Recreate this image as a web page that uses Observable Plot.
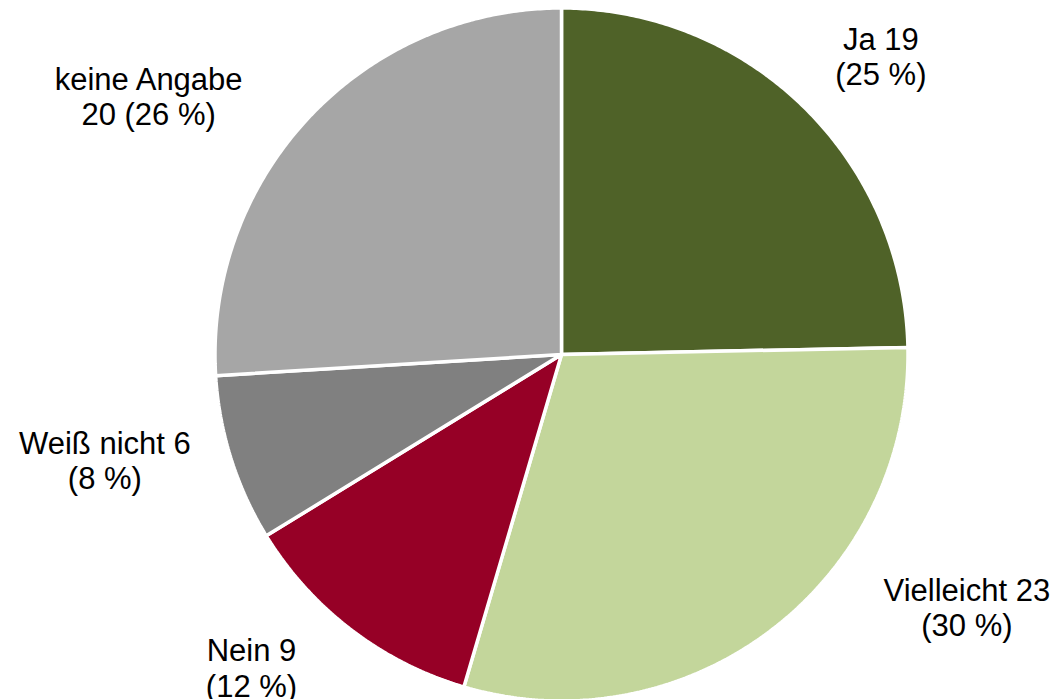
<!DOCTYPE html>
<html>
<head>
<meta charset="utf-8">
<script src="https://cdn.jsdelivr.net/npm/d3@7"></script>
<script src="https://cdn.jsdelivr.net/npm/@observablehq/plot@0.6"></script>
<style>
  html, body { margin: 0; padding: 0; background: #fff; }
  #chart svg { display: block; }
</style>
</head>
<body>
<div id="chart"></div>
<script>
// ---- data ----
const categories = ["Ja", "Vielleicht", "Nein", "Weiß nicht", "keine Angabe"];
const counts = [19, 23, 9, 6, 20];
const colors = ["#4F6228", "#C3D69B", "#960026", "#808080", "#A6A6A6"];

// ---- label layout (angle clockwise from 12 o'clock in degrees, radius in pie radii) ----
const labelAngle = [47.0, 121.9, 224.7, 256.9, 302.0];
const labelRadius = [1.26, 1.378, 1.272, 1.353, 1.405];

// ---- layout ----
const W = 1056, H = 699;
const cx = 561, cy = 354, R = 346.5;

const total = d3.sum(counts);
const arcs = d3.pie().sort(null).value(d => d)(counts);

// polygon points for each slice (unit circle), computed from pie angles
const slicePts = [];
arcs.forEach((a, i) => {
  const cat = categories[i];
  slicePts.push({cat, x: 0, y: 0});
  const n = Math.max(2, Math.ceil((a.endAngle - a.startAngle) / (Math.PI / 360)));
  for (let k = 0; k <= n; k++) {
    const t = a.startAngle + (a.endAngle - a.startAngle) * k / n;
    slicePts.push({cat, x: Math.sin(t), y: Math.cos(t)});
  }
});

const labels = categories.map((c, i) => {
  const pct = Math.round(counts[i] / total * 100);
  const t = labelAngle[i] * Math.PI / 180;
  const text = c === "keine Angabe"
    ? `${c}\n${counts[i]} (${pct} %)`
    : `${c} ${counts[i]}\n(${pct} %)`;
  return {cat: c, x: labelRadius[i] * Math.sin(t), y: labelRadius[i] * Math.cos(t), text};
});

const chart = Plot.plot({
  width: W,
  height: H,
  margin: 0,
  style: {background: "#fff", fontFamily: "'Liberation Sans', Arial, sans-serif"},
  x: {domain: [-cx / R, (W - cx) / R], range: [0, W], axis: null},
  y: {domain: [-(H - cy) / R, cy / R], range: [H, 0], axis: null},
  color: {domain: categories, range: colors},
  marks: [
    Plot.line(slicePts, {
      x: "x", y: "y", z: "cat", fill: "cat",
      stroke: "white", strokeWidth: 3.5, strokeLinejoin: "miter",
      curve: "linear-closed"
    }),
    Plot.text(labels, {
      x: "x", y: "y", text: "text",
      fontSize: 31, lineHeight: 1.13, lineAnchor: "middle",
      textAnchor: "middle", fill: "black"
    })
  ]
});
document.getElementById("chart").appendChild(chart);
</script>
</body>
</html>
